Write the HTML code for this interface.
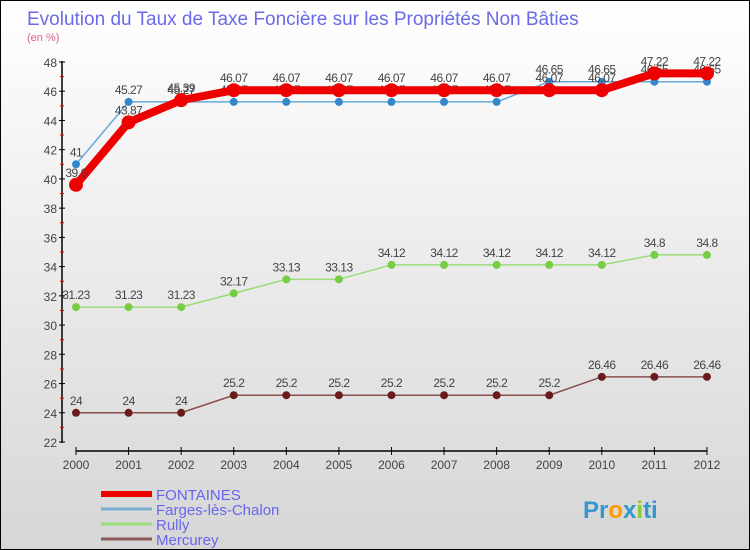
<!DOCTYPE html>
<html><head><meta charset="utf-8"><style>
body{margin:0}
#c{width:750px;height:550px;position:relative;background:linear-gradient(#ffffff,#d6d6d6);border:1px solid #000;box-sizing:border-box;font-family:"Liberation Sans",sans-serif;overflow:hidden}
</style></head><body>
<div id="c">
<svg id="s" width="750" height="550" style="position:absolute;left:0;top:0"></svg>
</div>
<script>
const years=["2000","2001","2002","2003","2004","2005","2006","2007","2008","2009","2010","2011","2012"];
const fontaines=[39.6,43.87,45.39,46.07,46.07,46.07,46.07,46.07,46.07,46.07,46.07,47.22,47.22];
const farges=[41,45.27,45.27,45.27,45.27,45.27,45.27,45.27,45.27,46.65,46.65,46.65,46.65];
const rully=[31.23,31.23,31.23,32.17,33.13,33.13,34.12,34.12,34.12,34.12,34.12,34.8,34.8];
const mercurey=[24,24,24,25.2,25.2,25.2,25.2,25.2,25.2,25.2,26.46,26.46,26.46];
const yTicks=[22,24,26,28,30,32,34,36,38,40,42,44,46,48];
const s=document.getElementById('s');const NS="http://www.w3.org/2000/svg";
function el(t,a,p){const e=document.createElementNS(NS,t);for(const k in a)e.setAttribute(k,a[k]);(p||s).appendChild(e);return e;}
const X=i=>75+i*52.58, Y=v=>441-(v-22)*380/26;
let t=el('text',{x:26,y:24,'font-size':19,fill:'#6a6ae6'});t.textContent="Evolution du Taux de Taxe Foncière sur les Propriétés Non Bâties";

t=el('text',{x:26,y:40,'font-size':11,fill:'#e06080'});t.textContent="(en %)";

el('line',{x1:61,y1:60,x2:61,y2:442,stroke:'#000','stroke-width':1.5});
el('line',{x1:75,y1:450,x2:706,y2:450,stroke:'#000','stroke-width':1.5});
yTicks.forEach((v,k)=>{el('line',{x1:58,y1:Y(v),x2:64,y2:Y(v),stroke:'#000'});
 if(k<yTicks.length-1) el('line',{x1:59,y1:Y(v+1),x2:63,y2:Y(v+1),stroke:'#e00'});
 const tt=el('text',{x:56,y:Y(v)+5,'font-size':12,fill:'#444','text-anchor':'end'});tt.textContent=v;
 });
years.forEach((y,i)=>{el('line',{x1:X(i),y1:446,x2:X(i),y2:454,stroke:'#000'});
 const tt=el('text',{x:X(i),y:468,'font-size':12,fill:'#444','text-anchor':'middle'});tt.textContent=y;
 });
function series(name,d,col,w,r,dot){
 const g=el('g',{});
 el('polyline',{points:d.map((v,i)=>X(i)+','+Y(v)).join(' '),fill:'none',stroke:col,'stroke-width':w,'stroke-linejoin':'round'},g);
 d.forEach((v,i)=>{const c=el('circle',{cx:X(i),cy:Y(v),r:r,fill:dot},g);
  
  const tt=el('text',{x:X(i),y:Y(v)-8,'font-size':12,fill:'#444','text-anchor':'middle','letter-spacing':'-0.5'},g);tt.textContent=v;});
}
series('mercurey',mercurey,'#8a5050',1.5,4,'#6a1c1c');
series('rully',rully,'#99dd77',1.5,4,'#77cc44');
series('farges',farges,'#6aa8d8',1.5,4,'#3388cc');
series('fontaines',fontaines,'#ee0000',8,7,'#ee0000');
const leg=[['FONTAINES','#ee0000',6],['Farges-lès-Chalon','#7aaed0',3],['Rully','#99dd77',3],['Mercurey','#8a5a5a',3]];
leg.forEach((l,i)=>{const y=493+i*15;const g=el('g',{});
 el('line',{x1:100,y1:y,x2:151,y2:y,stroke:l[1],'stroke-width':l[2]},g);
 const tt=el('text',{x:155,y:y+6,'font-size':15,fill:'#6666ee'},g);tt.textContent=l[0];});
t=el('text',{x:582,y:517,'font-size':24,'font-weight':'bold',fill:'#3399cc'});t.innerHTML='Pr<tspan fill="#ff9900">o</tspan>x<tspan fill="#88cc33">i</tspan>ti';

</script>
</body></html>
